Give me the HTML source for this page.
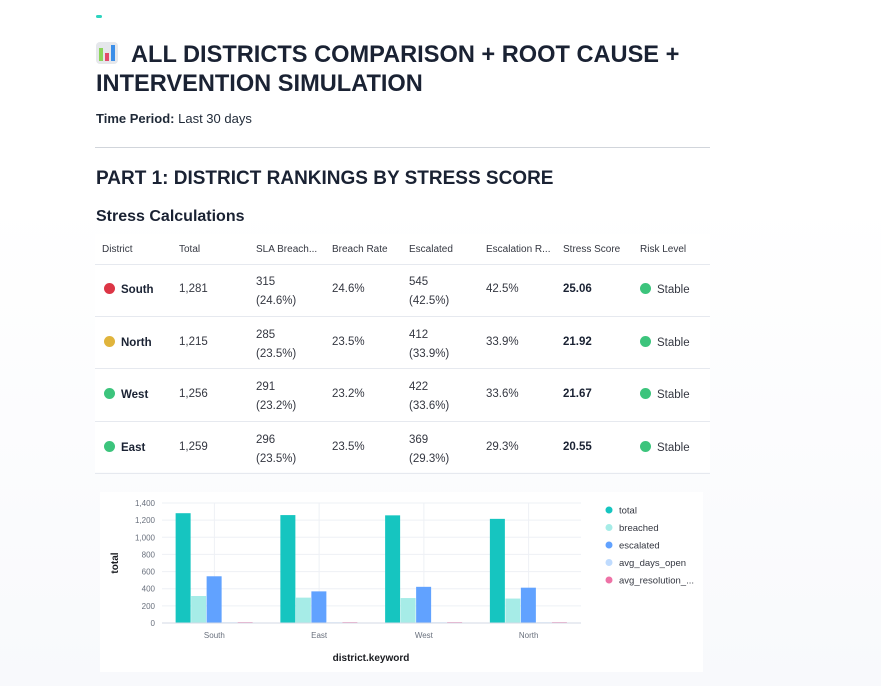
<!DOCTYPE html>
<html><head><meta charset="utf-8"><style>
body{margin:0;width:881px;height:686px;overflow:hidden;font-family:"Liberation Sans","Noto Sans CJK SC",sans-serif;color:#1f2937;background:linear-gradient(#fff 0px,#fff 200px,#f8f9fc 686px);position:relative}
.a{position:absolute;white-space:nowrap}
.h{font-size:10px;color:#343741}
.c{font-size:11.5px;color:#343741}
.hr{position:absolute;left:95px;width:615px;height:1px;background:#e6e9ef}
.dot{display:inline-block;width:11px;height:11px;border-radius:50%;vertical-align:-1px;margin-right:6px}
</style></head><body>
<div class="a" style="left:96px;top:15px;width:6px;height:3px;background:#2dd4bf;border-radius:2px"></div>
<div class="a" style="left:96px;top:41px;font-size:23.6px;font-weight:bold;line-height:29px;color:#1a2233">
<span style="display:inline-block;width:22px;height:22px;background:#e5e7eb;border-radius:4px;vertical-align:-2px;margin-right:13px;position:relative"><span style="position:absolute;left:3px;bottom:3px;width:4px;height:13px;background:#8bd45a"></span><span style="position:absolute;left:9px;bottom:3px;width:4px;height:8px;background:#e14a6a"></span><span style="position:absolute;left:15px;bottom:3px;width:4px;height:16px;background:#3b8ee8"></span></span>ALL DISTRICTS COMPARISON + ROOT CAUSE +<br>INTERVENTION SIMULATION</div>
<div class="a" style="left:96px;top:111px;font-size:13px"><b>Time Period:</b> Last 30 days</div>
<div class="a" style="left:95px;top:147px;width:615px;height:1px;background:#d1d5db"></div>
<div class="a" style="left:96px;top:168px;font-size:19px;font-weight:bold;color:#1a2233">PART 1: DISTRICT RANKINGS BY STRESS SCORE</div>
<div class="a" style="left:96px;top:208px;font-size:16px;font-weight:bold;color:#1a2233">Stress Calculations</div>
<div class="a" style="left:95px;top:234px;width:615px;height:238px;background:#fff"></div>
<div id="tbl"></div>
<div class="a" style="left:100px;top:492px;width:603px;height:180px;background:#fff"></div>
<svg class="a" id="chart" style="left:0;top:0" width="881" height="686"></svg>
<script>
const cols=[102,179,256,332,409,486,563,640];
const headers=["District","Total","SLA Breach...","Breach Rate","Escalated","Escalation R...","Stress Score","Risk Level"];
const rows=[
["South","#dc3545","1,281","315","(24.6%)","24.6%","545","(42.5%)","42.5%","25.06"],
["North","#e0b43c","1,215","285","(23.5%)","23.5%","412","(33.9%)","33.9%","21.92"],
["West","#3cc47c","1,256","291","(23.2%)","23.2%","422","(33.6%)","33.6%","21.67"],
["East","#3cc47c","1,259","296","(23.5%)","23.5%","369","(29.3%)","29.3%","20.55"]];
const T=document.getElementById('tbl');
let html='';
headers.forEach((h,i)=>{html+=`<div class="a h" style="left:${cols[i]}px;top:244px">${h}</div>`});
html+='<div class="hr" style="top:264px"></div>';
rows.forEach((r,j)=>{const cy=290+j*52.5;
html+=`<div class="a c" style="left:${cols[0]+2}px;top:${cy-7}px;font-weight:bold;color:#1a2233"><span class="dot" style="background:${r[1]}"></span>${r[0]}</div>`;
html+=`<div class="a c" style="left:${cols[1]}px;top:${cy-7}px">${r[2]}</div>`;
html+=`<div class="a c" style="left:${cols[2]}px;top:${cy-17}px;line-height:19px">${r[3]}<br>${r[4]}</div>`;
html+=`<div class="a c" style="left:${cols[3]}px;top:${cy-7}px">${r[5]}</div>`;
html+=`<div class="a c" style="left:${cols[4]}px;top:${cy-17}px;line-height:19px">${r[6]}<br>${r[7]}</div>`;
html+=`<div class="a c" style="left:${cols[5]}px;top:${cy-7}px">${r[8]}</div>`;
html+=`<div class="a c" style="left:${cols[6]}px;top:${cy-7}px;font-weight:bold;color:#1a2233">${r[9]}</div>`;
html+=`<div class="a c" style="left:${cols[7]}px;top:${cy-7}px"><span class="dot" style="background:#3cc47c"></span>Stable</div>`;
html+=`<div class="hr" style="top:${316+j*52.3}px"></div>`;});
T.innerHTML=html;
</script>
<script>
const categories=["South","East","West","North"];
const seriesNames=["total","breached","escalated","avg_days_open","avg_resolution_..."];
const colors=["#16c5c0","#a6ece7","#61a2ff","#bfdbfe","#ee72a6"];
const total=[1281,1259,1256,1215];
const breached=[315,296,291,285];
const escalated=[545,369,422,412];
const avgDaysOpen=[8,8,8,8];
const avgResolution=[10,10,10,10];
const yTicks=[0,200,400,600,800,1000,1200,1400];
const series=[total,breached,escalated,avgDaysOpen,avgResolution];
const NS="http://www.w3.org/2000/svg";
const svg=document.getElementById('chart');
const x0=162,x1=581,y0=623,y1=503,yMax=1400;
const y=v=>y0-(v/yMax)*(y0-y1);
const band=(x1-x0)/categories.length;
const cx=i=>x0+band*(i+0.5);
function el(t,a,txt){const e=document.createElementNS(NS,t);for(const k in a)e.setAttribute(k,a[k]);if(txt!==undefined)e.textContent=txt;svg.appendChild(e);return e;}
yTicks.forEach(v=>{
 const g=el('line',{x1:x0,x2:x1,y1:y(v),y2:y(v),stroke:'#eef0f5'});
 
 
 const t=el('text',{x:x0-7,y:y(v)+3,'text-anchor':'end','font-size':8,fill:'#69707d'},v.toLocaleString('en-US'));
 
 
});
categories.forEach((c,i)=>{
 const g=el('line',{x1:cx(i),x2:cx(i),y1:y1,y2:y0,stroke:'#eef0f5'});
 
 
 const t=el('text',{x:cx(i),y:638,'text-anchor':'middle','font-size':8,fill:'#69707d'},c);
 
 
});
const bw=15.5,gw=bw*5;
series.forEach((s,k)=>{s.forEach((v,i)=>{
 const bx=cx(i)-gw/2+k*bw;
 const r=el('rect',{x:bx,y:y(v),width:bw-0.5,height:y0-y(v),fill:colors[k]});
 
 
});});
const ax=el('line',{x1:x0,x2:x1,y1:y0,y2:y0,stroke:'#d3dae6'});


const yt=el('text',{x:118,y:563,'text-anchor':'middle','font-size':10,'font-weight':'bold',fill:'#1a1c21',transform:'rotate(-90 118 563)'},'total');


const xt=el('text',{x:371,y:661,'text-anchor':'middle','font-size':10,'font-weight':'bold',fill:'#1a1c21'},'district.keyword');


seriesNames.forEach((n,k)=>{
 const ly=510+k*17.5;
 const d=el('circle',{cx:609,cy:ly,r:3.5,fill:colors[k]});
 
 
 const t=el('text',{x:619,y:ly+3.5,'font-size':9.5,fill:'#343741'},n);
 
 
});
</script>
</body></html>
